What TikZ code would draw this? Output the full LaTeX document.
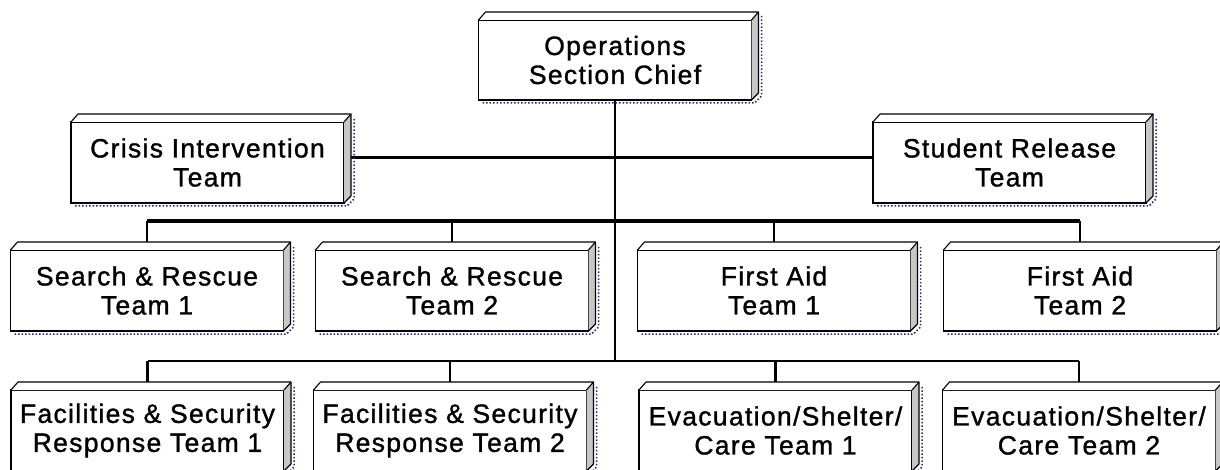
\documentclass[tikz,border=0pt]{standalone}
\usepackage{fontspec}
\setmainfont{Liberation Sans}[LetterSpace=5,FakeBold=1.2]
\begin{document}
\begin{tikzpicture}[x=1pt,y=-1pt,
  teambox/.style={draw=black,line width=1.8pt,fill=white,outer sep=0pt,inner sep=0pt,
    minimum width=273pt,minimum height=81pt,align=center,
    font=\fontsize{26.5}{29}\selectfont},
  link/.style={line width=2.4pt},
  bus/.style={line width=4pt},
  shade/.style={draw=black!55!blue!70!gray,line width=1.5pt,dotted}]
  \useasboundingbox (0,0) rectangle (1220,470);
  \clip (0,0) rectangle (1220,470);
  % boxes
  \node (chief) at (615,60) [teambox,minimum height=80pt] {Operations\\Section Chief};
  \node (crisis) at (207.5,162.5) [teambox] {Crisis Intervention\\Team};
  \node (release) at (1009.5,162.5) [teambox] {Student Release\\Team};
  \node (sr1) at (147,290.5) [teambox] {Search \& Rescue\\Team 1};
  \node (sr2) at (452,290.5) [teambox] {Search \& Rescue\\Team 2};
  \node (fa1) at (774,290.5) [teambox] {First Aid\\Team 1};
  \node (fa2) at (1080,290.5) [teambox] {First Aid\\Team 2};
  \node (fs1) at (147.5,430.5) [teambox] {Facilities \& Security\\Response Team 1};
  \node (fs2) at (450,430.5) [teambox] {Facilities \& Security\\Response Team 2};
  \node (evac1) at (775.5,430.5) [teambox] {Evacuation/Shelter/\\Care Team 1};
  \node (evac2) at (1079,430.5) [teambox] {Evacuation/Shelter/\\Care Team 2};
  % connectors
  \coordinate (bus3) at ([shift={(0,-29)}]sr1.north);
  \coordinate (bus4) at ([shift={(0,-29)}]fs1.north);
  \draw[link] ([yshift=5pt]crisis.east) -- ([yshift=5pt]release.west);
  \draw[link] (chief.south) -- (chief.south |- bus4);
  \draw[bus] (bus3) -- (bus3 -| fa2.north);
  \draw[link] (bus4) -- (bus4 -| evac2.north);
  \foreach \n in {sr1,sr2,fa1,fa2}
    \draw[link] (bus3 -| \n.north) -- ([shift={(0,-8)}]\n.north);
  \foreach \n in {fs1,fs2,evac1,evac2}
    \draw[link] (bus4 -| \n.north) -- ([shift={(0,-8)}]\n.north);
  % 3d edges and shadows
  \foreach \n in {chief,crisis,release,sr1,sr2,fa1,fa2,fs1,fs2,evac1,evac2} {
    \draw[shade] ([shift={(4,3)}]\n.south west) -- ([shift={(3,3)}]\n.south east)
      -- ([shift={(10,-4)}]\n.south east) -- ([shift={(10,-4)}]\n.north east);
    \fill[white] (\n.north west) -- ++(7,-8) -- ([shift={(7,-8)}]\n.north east) -- (\n.north east) -- cycle;
    \fill[black!22] (\n.north east) -- ++(7,-8) -- ([shift={(7,-7)}]\n.south east) -- (\n.south east) -- cycle;
    \draw[line width=1.1pt,line join=round] (\n.north west) -- ++(7,-8) -- ([shift={(7,-8)}]\n.north east)
      -- ([shift={(7,-7)}]\n.south east) -- (\n.south east);
    \draw[line width=1.1pt] ([shift={(7,-8)}]\n.north east) -- (\n.north east);
  }
\end{tikzpicture}
\end{document}
